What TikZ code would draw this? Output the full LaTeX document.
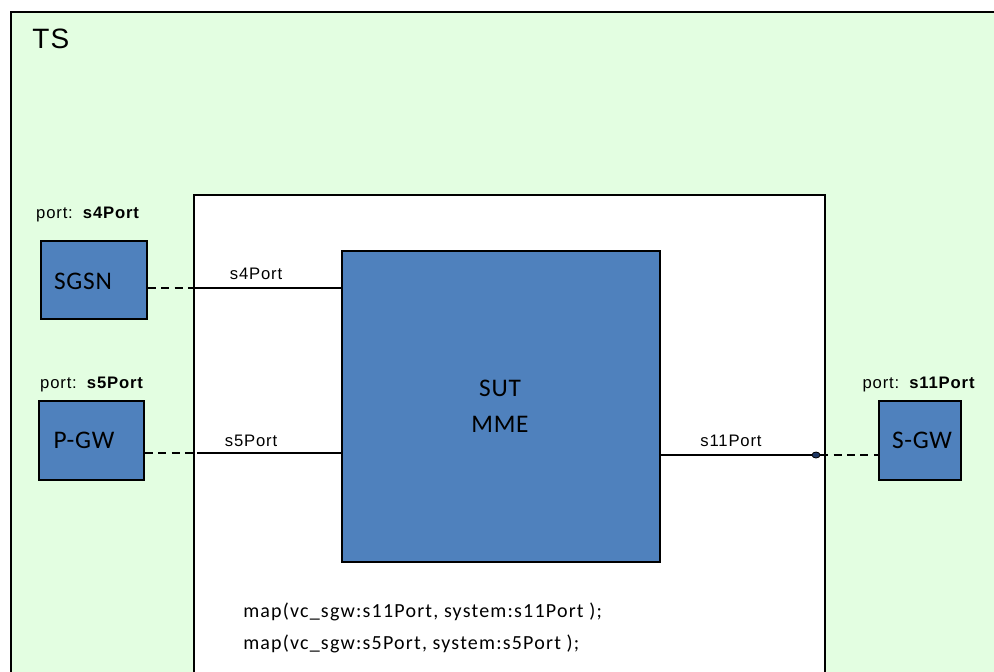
\documentclass[tikz,border=0pt]{standalone}
\usepackage{fontspec}
\usetikzlibrary{shapes.geometric}
\setmainfont{Liberation Sans}[LetterSpace=5]
\newfontfamily\calfont{Carlito}[LetterSpace=3]
\newfontfamily\calspaced{Carlito}[LetterSpace=6]
\definecolor{tsgreen}{HTML}{E3FEE1}
\definecolor{boxblue}{HTML}{4F81BD}
\definecolor{dotblue}{HTML}{1F3864}
\begin{document}
\begin{tikzpicture}[x=0.75pt,y=-0.75pt,
  frame/.style={draw=black,line width=1.3pt},
  bluebox/.style={frame,fill=boxblue},
  boxtext/.style={font=\calfont\fontsize{19}{22}\selectfont,inner sep=0pt},
  portlbl/.style={font=\fontsize{12.5}{14}\selectfont,inner sep=0pt},
  linelbl/.style={font=\fontsize{12.5}{14}\selectfont,inner sep=0pt},
  conn/.style={line width=1.1pt},
  dconn/.style={line width=1.1pt,dash pattern=on 6pt off 4pt}]
\useasboundingbox (0,0) rectangle (994,671);
\clip (0,0) rectangle (994,671);
% containers
\path[frame,fill=tsgreen] (11,12) rectangle (1010,700);
\node[anchor=west,font=\fontsize{21}{24}\selectfont,inner sep=0pt] (ts) at (32,39) {TS};
\path[frame,fill=white] (194,195) rectangle (825,700);
% boxes
\node[bluebox,minimum width=318*0.75pt,minimum height=311*0.75pt,inner sep=0pt] (sut) at (501,406.5) {};
\node[boxtext,align=center,font=\calfont\fontsize{19}{27}\selectfont] (suttxt) at (500,406) {SUT\\MME};
\node[bluebox,minimum width=106*0.75pt,minimum height=78*0.75pt,inner sep=0pt] (sgsn) at (94,280) {};
\node[boxtext] (sgsntxt) at (83,281) {SGSN};
\node[bluebox,minimum width=105*0.75pt,minimum height=79*0.75pt,inner sep=0pt] (pgw) at (91.5,440.5) {};
\node[boxtext] (pgwtxt) at (84,440) {P-GW};
\node[bluebox,minimum width=82*0.75pt,minimum height=79*0.75pt,inner sep=0pt] (sgw) at (920,440.5) {};
\node[boxtext] (sgwtxt) at (922,440) {S-GW};
% port labels
\node[portlbl] (l4) at (88,214) {port:\, \textbf{s4Port}};
\node[portlbl] (l5) at (92,384) {port:\, \textbf{s5Port}};
\node[portlbl] (l11) at (919,384) {port:\, \textbf{s11Port}};
% connectors
\coordinate (p4) at (194,288);
\coordinate (p5) at (197,453);
\node[draw=black,fill=dotblue,ellipse,minimum width=6pt,minimum height=4.5pt,inner sep=0pt,line width=0.6pt] (p11) at (816,455) {};
\draw[dconn] (sgsn.east |- p4) -- (p4);
\draw[conn] (p4) -- (p4 -| sut.west);
\draw[dconn] (pgw.east |- p5) -- (p5);
\draw[conn] (p5) -- (p5 -| sut.west);
\draw[conn] (sut.east |- p11) -- (p11.west);
\draw[dconn] (p11.east) -- (p11 -| sgw.west);
\node[linelbl] (t4) at (256,274) {s4Port};
\node[linelbl] (t5) at (251,441) {s5Port};
\node[linelbl] (t11) at (731,441) {s11Port};
% map text
\node[anchor=west,align=left,inner sep=0pt,font=\calspaced\fontsize{15}{23.5}\selectfont] (maptxt) at (243,628)
{map(vc\_sgw:s11Port, system:s11Port );\\map(vc\_sgw:s5Port, system:s5Port );};
\end{tikzpicture}
\end{document}
